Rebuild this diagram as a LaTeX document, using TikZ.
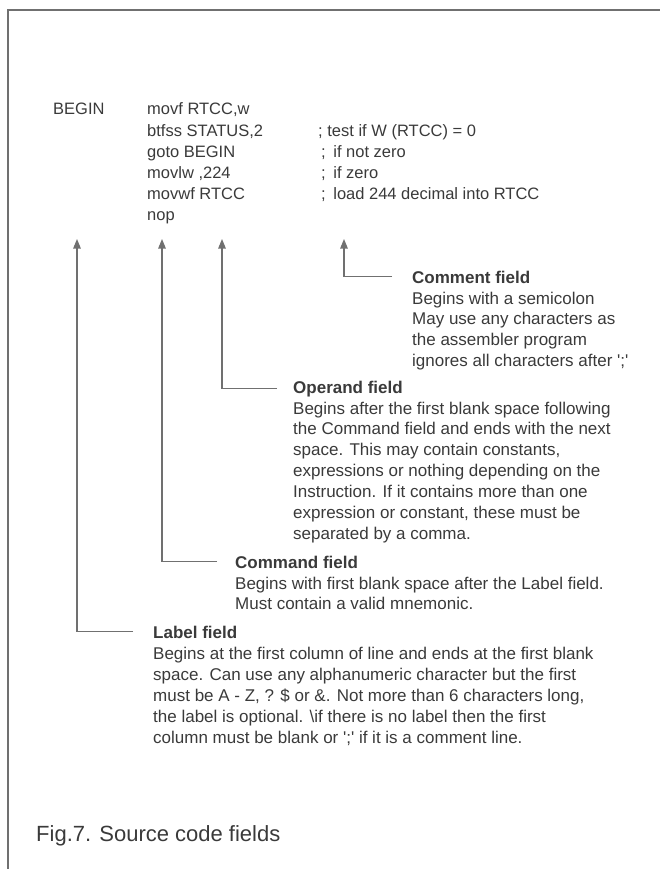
\documentclass[tikz,border=0pt]{standalone}
\usepackage{fontspec}
\setmainfont{Liberation Sans}
\usetikzlibrary{arrows.meta}
\definecolor{ink}{HTML}{3A3A3A}
\definecolor{rulec}{HTML}{707070}
\newcommand{\rows}[1]{\begin{tabular}[t]{@{}l@{}}#1\end{tabular}}
\begin{document}
\begin{tikzpicture}[x=1pt,y=-1pt,
  txt/.style={anchor=base west, inner sep=0pt, text=ink, font=\fontsize{16.5}{21.2}\selectfont},
  body/.style={anchor=base west, inner sep=0pt, text=ink, font=\fontsize{17}{20.9}\selectfont},
  head/.style={anchor=base west, inner sep=0pt, text=ink, font=\fontsize{17}{20.9}\selectfont\bfseries},
  conn/.style={draw=rulec, line width=1.1pt, -{Triangle[width=7.5pt,length=9.5pt]}},
  frame/.style={draw=rulec, line width=1.3pt}]
\useasboundingbox (0,0) rectangle (660,869);
\draw[frame] (8,869) -- (8,10) -- (660,10);

% source code
\node[txt] (lbl) at (53,115) {BEGIN};
\node[txt] (code) at (147,115) {\rows{movf RTCC,w\\btfss STATUS,2\\goto BEGIN\\movlw ,224\\movwf RTCC\\nop}};
\node[txt] (cmt) at (318,136.2) {\rows{; test if W (RTCC) = 0\\\hspace*{3pt};\hspace*{3pt} if not zero\\\hspace*{3pt};\hspace*{3pt} if zero\\\hspace*{3pt};\hspace*{3pt} load 244 decimal into RTCC}};

% arrow tips
\coordinate (tl) at (77,239);
\coordinate (tc) at (162,239);
\coordinate (to) at (222,239);
\coordinate (tm) at (344,239);

% Comment field
\node[head] (hm) at (412,283) {Comment field};
\node[body] (bm) at (412,304) {\rows{Begins with a semicolon\\May use any characters as\\the assembler program\\ignores all characters after \textquotesingle;\textquotesingle}};
\draw[conn] ([xshift=-20pt]hm.west) -| (tm);

% Operand field
\node[head] (ho) at (293,393) {Operand field};
\node[body] (bo) at (293,414) {\rows{Begins after the first blank space following\\the Command field and ends with the next\\space. This may contain constants,\\expressions or nothing depending on the\\Instruction. If it contains more than one\\expression or constant, these must be\\separated by a comma.}};
\draw[conn] ([xshift=-16pt]ho.west) -| (to);

% Command field
\node[head] (hc) at (235,568) {Command field};
\node[body] (bc) at (235,589) {\rows{Begins with first blank space after the Label field.\\Must contain a valid mnemonic.}};
\draw[conn] ([xshift=-18pt]hc.west) -| (tc);

% Label field
\node[head] (hl) at (153,638) {Label field};
\node[body] (bl) at (153,659.5) {\rows{Begins at the first column of line and ends at the first blank\\space. Can use any alphanumeric character but the first\\must be A - Z, ? \$ or \&. Not more than 6 characters long,\\the label is optional. {\textbackslash}if there is no label then the first\\column must be blank or \textquotesingle;\textquotesingle{} if it is a comment line.}};
\draw[conn] ([xshift=-20pt]hl.west) -| (tl);

% caption
\node[anchor=base west, inner sep=0pt, text=ink, font=\fontsize{22}{26}\selectfont] (fig) at (36,841) {Fig.7. Source code fields};
\end{tikzpicture}
\end{document}
